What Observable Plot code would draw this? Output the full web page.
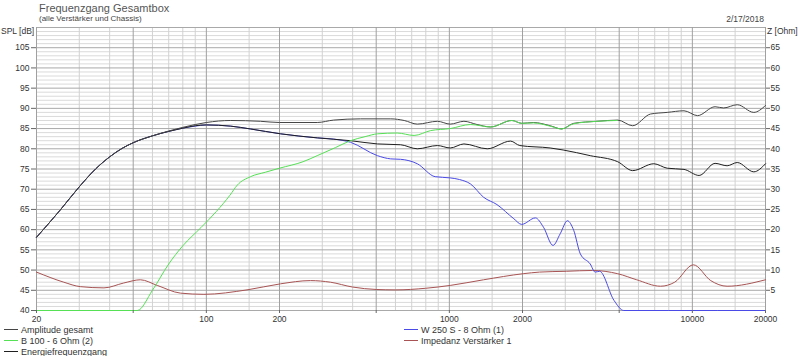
<!DOCTYPE html>
<html>
<head>
<meta charset="utf-8">
<script src="https://cdn.jsdelivr.net/npm/d3@7"></script>
<script src="https://cdn.jsdelivr.net/npm/@observablehq/plot@0.6"></script>
<style>
  html, body { margin: 0; padding: 0; background: #fff; }
  #wrap { position: relative; width: 800px; height: 356px; overflow: hidden;
          font-family: "Liberation Sans", Arial, sans-serif; color: #333; }
  .ov { position: absolute; white-space: nowrap; line-height: 1; }
  .leg { position: absolute; font-size: 9px; white-space: nowrap; line-height: 1; color: #333; }
  .leg span.sw { display: inline-block; width: 14px; height: 0; border-top: 1px solid; vertical-align: middle; margin-right: 3px; position: relative; top: -1px; }
</style>
</head>
<body>
<div id="wrap"></div>
<script>
// ---------- tick / grid values ----------
const freqLabelTicks = [20, 50, 100, 200, 500, 1000, 2000, 5000, 10000, 20000];
const freqMinorGrid = [30, 40, 60, 70, 80, 90, 150, 300, 400, 600, 700, 800, 900,
                       1500, 3000, 4000, 6000, 7000, 8000, 9000, 15000];
const splTicks = [40, 45, 50, 55, 60, 65, 70, 75, 80, 85, 90, 95, 100, 105];
const ohmTicks = [5, 10, 15, 20, 25, 30, 35, 40, 45, 50, 55, 60, 65];
const ohmOffset = 40; // Z axis: 0 Ohm sits at 40 dB

// ---------- series: Amplitude gesamt ----------
const ampFreq = [20, 25, 30, 35, 40, 45, 50, 60, 70, 80, 90, 100, 126, 167, 200, 286, 334, 431, 574, 652, 738, 893, 1008, 1148, 1300, 1477, 1810, 1984, 2220, 2600, 2900, 3250, 4060, 4930, 5680, 6730, 7880, 9240, 10500, 12400, 13450, 15300, 17900, 20000];
const ampDb   = [58.1, 64.8, 70.6, 75.0, 78.0, 80.1, 81.5, 83.2, 84.4, 85.3, 86.0, 86.5, 87.0, 86.8, 86.5, 86.5, 87.1, 87.4, 87.4, 87.0, 86.1, 86.8, 86.1, 86.8, 86.0, 85.4, 87.0, 86.3, 86.5, 85.7, 84.9, 86.3, 86.8, 87.1, 85.7, 88.6, 89.0, 89.4, 88.2, 90.4, 90.1, 90.9, 89.0, 90.7];

// ---------- series: Energiefrequenzgang ----------
const energyFreq = [20, 25, 30, 35, 40, 45, 50, 60, 70, 80, 90, 100, 126, 152, 202, 286, 392, 506, 630, 738, 893, 1008, 1148, 1432, 1786, 1950, 2600, 2940, 3800, 4930, 5680, 6940, 7880, 9240, 10660, 12400, 13900, 15300, 17900, 20000];
const energyDb   = [58.1, 64.8, 70.6, 75.0, 78.0, 80.1, 81.5, 83.2, 84.3, 85.1, 85.7, 85.9, 85.6, 84.9, 83.7, 82.7, 82.0, 81.2, 81.0, 80.0, 80.8, 80.2, 81.2, 80.0, 81.9, 80.8, 80.2, 79.7, 78.3, 76.8, 74.6, 76.3, 75.2, 74.9, 73.4, 76.4, 75.8, 76.6, 74.3, 76.3];

// ---------- series: W 250 S - 8 Ohm (1) ----------
const wooferFreq = [20, 25, 30, 35, 40, 45, 50, 60, 70, 80, 90, 100, 126, 152, 202, 286, 334, 392, 506, 574, 630, 738, 874, 1008, 1100, 1222, 1384, 1570, 1842, 1984, 2260, 2440, 2670, 2860, 3060, 3250, 3460, 3800, 3980, 4150, 4760, 5220, 8000, 20000];
const wooferDb   = [58.1, 64.8, 70.6, 75.0, 78.0, 80.1, 81.5, 83.2, 84.3, 85.1, 85.6, 85.9, 85.6, 84.9, 83.7, 82.7, 82.4, 81.6, 78.3, 77.5, 77.4, 76.3, 73.1, 72.8, 72.4, 71.3, 68.0, 66.2, 62.7, 61.3, 62.9, 60.6, 56.1, 59.0, 62.2, 59.8, 54.0, 51.5, 49.5, 49.7, 42.5, 40.0, 40.0, 40.0];

// ---------- series: B 100 - 6 Ohm (2) ----------
const tweeterFreq = [20, 52, 60, 70, 80, 95, 110, 125, 134, 152, 175, 200, 250, 286, 340, 392, 450, 506, 610, 716, 838, 1008, 1222, 1477, 1810, 1984, 2220, 2600, 2900, 3250, 4060, 4900];
const tweeterDb   = [40.0, 40.0, 45.0, 51.5, 56.0, 60.5, 64.5, 68.5, 71.0, 73.1, 74.2, 75.2, 76.8, 78.3, 80.3, 82.0, 83.0, 83.7, 83.9, 83.3, 84.5, 85.0, 86.0, 85.4, 87.0, 86.3, 86.4, 85.6, 84.9, 86.2, 86.8, 87.0];

// ---------- series: Impedanz Verstärker 1 (Ohm) ----------
const impFreq = [20, 25.9, 30.3, 37.9, 45.7, 53.5, 62.8, 78.2, 97.7, 147, 202, 268, 324, 400, 500, 600, 800, 1008, 1384, 2013, 2350, 3030, 3880, 4930, 5900, 7400, 8460, 10100, 11900, 13900, 20000];
const impOhm  = [9.5, 7.0, 5.9, 5.6, 6.8, 7.6, 6.2, 4.3, 4.0, 5.1, 6.6, 7.4, 7.0, 5.8, 5.2, 5.1, 5.5, 6.2, 7.6, 9.1, 9.5, 9.7, 9.9, 9.1, 7.6, 6.0, 7.0, 11.3, 7.4, 6.0, 7.6];

const legendItems = [
  ["Amplitude gesamt", "#454545"],
  ["B 100 - 6 Ohm (2)", "#55e055"],
  ["Energiefrequenzgang", "#202020"],
  ["W 250 S - 8 Ohm  (1)", "#4a4ae6"],
  ["Impedanz Verstärker 1", "#a85454"]
];

const toRows = (fs, vs) => fs.map((f, i) => ({f, v: vs[i]}));
const amp = toRows(ampFreq, ampDb);
const energy = toRows(energyFreq, energyDb);
const woofer = toRows(wooferFreq, wooferDb);
const tweeter = toRows(tweeterFreq, tweeterDb);
const imp = impFreq.map((f, i) => ({f, v: impOhm[i] + ohmOffset}));

const minorY = d3.range(41, 110).filter(v => v % 5 !== 0);
const majorY = d3.range(40, 111, 5);

const chart = Plot.plot({
  width: 800,
  height: 356,
  marginLeft: 36,
  marginRight: 35,
  marginTop: 27,
  marginBottom: 46,
  x: {type: "log", domain: [20, 20000]},
  y: {domain: [40, 110]},
  style: {fontFamily: '"Liberation Sans", Arial, sans-serif', fontSize: "8.5px", color: "#333", background: "transparent"},
  marks: [
    Plot.ruleY(minorY, {stroke: "#dadada", strokeWidth: 1}),
    Plot.ruleX(freqMinorGrid, {stroke: "#d2d2d2", strokeWidth: 1}),
    Plot.ruleY(majorY, {stroke: "#a9a9a9", strokeWidth: 1}),
    Plot.ruleX(freqLabelTicks, {stroke: "#a0a0a0", strokeWidth: 1}),
    Plot.line(imp, {x: "f", y: "v", stroke: legendItems[4][1], strokeWidth: 1, curve: "monotone-x"}),
    Plot.line(woofer, {x: "f", y: "v", stroke: legendItems[3][1], strokeWidth: 1, curve: "monotone-x"}),
    Plot.line(energy, {x: "f", y: "v", stroke: legendItems[2][1], strokeWidth: 1, curve: "monotone-x"}),
    Plot.line(amp, {x: "f", y: "v", stroke: legendItems[0][1], strokeWidth: 1, curve: "monotone-x"}),
    Plot.line(tweeter, {x: "f", y: "v", stroke: legendItems[1][1], strokeWidth: 1, curve: "monotone-x"}),
    Plot.axisY(splTicks, {anchor: "left", tickSize: 5, tickPadding: 2, label: null, stroke: "#666"}),
    Plot.axisY(ohmTicks.map(z => z + ohmOffset), {anchor: "right", tickSize: 4, tickPadding: 1, label: null, tickFormat: d => String(d - ohmOffset), stroke: "#666"}),
    Plot.axisX(freqLabelTicks, {anchor: "bottom", tickSize: 3, tickPadding: 2, label: null, tickFormat: d => String(d), stroke: "#666"})
  ]
});

const wrap = document.getElementById("wrap");
wrap.appendChild(chart);
chart.style.position = "absolute";
chart.style.left = "0";
chart.style.top = "0";

function ov(text, css) {
  const d = document.createElement("div");
  d.className = "ov";
  d.textContent = text;
  Object.assign(d.style, css);
  wrap.appendChild(d);
  return d;
}
ov("Frequenzgang Gesamtbox", {left: "39px", top: "3px", fontSize: "11px", color: "#555"});
ov("(alle Verstärker und Chassis)", {left: "39px", top: "15px", fontSize: "8px", color: "#444"});
ov("2/17/2018", {right: "36px", top: "15px", fontSize: "8.5px", color: "#444"});
ov("SPL [dB]", {left: "1px", top: "27px", fontSize: "8.5px", color: "#333"});
ov("Z [Ohm]", {left: "767px", top: "27px", fontSize: "8.5px", color: "#333"});

const legPos = [[4, 326], [4, 337], [4, 348], [404, 326], [404, 337]];
legendItems.forEach(([label, color], i) => {
  const d = document.createElement("div");
  d.className = "leg";
  d.style.left = legPos[i][0] + "px";
  d.style.top = legPos[i][1] + "px";
  const sw = document.createElement("span");
  sw.className = "sw";
  sw.style.borderTopColor = color;
  d.appendChild(sw);
  d.appendChild(document.createTextNode(label));
  wrap.appendChild(d);
});
</script>
</body>
</html>
